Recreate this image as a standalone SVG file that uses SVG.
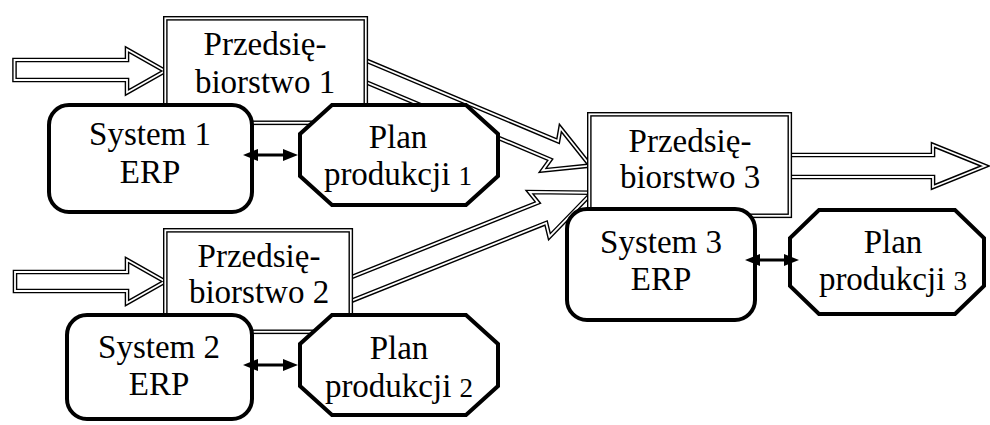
<svg xmlns="http://www.w3.org/2000/svg" xmlns:xlink="http://www.w3.org/1999/xlink" width="990" height="425" viewBox="0 0 990 425">
  <style>
    .dbl-o { fill: #fff; stroke: #000; stroke-width: 4.6; stroke-linejoin: miter; stroke-miterlimit: 6; }
    .dbl-i { fill: none; stroke: #fff; stroke-width: 1.8; stroke-linejoin: miter; stroke-miterlimit: 6; }
    .thick { fill: #fff; stroke: #000; stroke-width: 4; stroke-linejoin: miter; }
    .link { fill: none; stroke: #000; stroke-width: 3; marker-start: url(#head); marker-end: url(#head); }
    text { font-family: "Liberation Serif", "Times New Roman", serif; font-size: 33px; fill: #000; text-anchor: middle; }
    .num { font-size: 27px; }
  </style>
  <defs>
    <marker id="head" markerUnits="userSpaceOnUse" markerWidth="15" markerHeight="12" refX="0" refY="6" orient="auto-start-reverse" overflow="visible">
      <path d="M0,0 L15,6 L0,12 Z" fill="#000"/>
    </marker>
    <!-- block arrow outlines -->
    <path id="in1" d="M14.5,60 H127 V49.5 L165,71 L127,92.5 V80 H14.5 Z"/>
    <path id="in2" d="M15,272 H127 V260 L165,281.5 L127,303 V291 H15 Z"/>
    <path id="out3" d="M770,155 H933 V145 L985,166 L933,187 V177 H770 Z"/>
    <path id="a13" transform="translate(592,166.3) rotate(22.8)" d="M-2,0 L-44,-23 L-41,-10 L-280,-10 L-280,10 L-41,10 L-44,23 Z"/>
    <path id="a23" transform="translate(594,192) rotate(-21.8)" d="M-2,0 L-60,-24 L-56,-11 L-290,-11 L-290,11 L-56,11 L-58,25 Z"/>
    <!-- double-bordered company boxes -->
    <rect id="box1" x="165.3" y="18.3" width="200.5" height="104.5"/>
    <rect id="box2" x="165.3" y="230.3" width="185.5" height="101.5"/>
    <rect id="box3" x="589.3" y="114.3" width="200.5" height="101.5"/>
  </defs>

  <!-- material flows between companies -->
  <g id="flows">
    <use xlink:href="#in1" class="dbl-o"/><use xlink:href="#in1" class="dbl-i"/>
    <use xlink:href="#in2" class="dbl-o"/><use xlink:href="#in2" class="dbl-i"/>
    <use xlink:href="#a13" class="dbl-o"/><use xlink:href="#a13" class="dbl-i"/>
    <use xlink:href="#a23" class="dbl-o"/><use xlink:href="#a23" class="dbl-i"/>
    <use xlink:href="#out3" class="dbl-o"/><use xlink:href="#out3" class="dbl-i"/>
  </g>

  <g id="przedsiebiorstwo3">
    <use xlink:href="#box3" class="dbl-o"/><use xlink:href="#box3" class="dbl-i"/>
    <text x="690" y="152">Przedsię-</text>
    <text x="690" y="188">biorstwo 3</text>
  </g>
  <g id="przedsiebiorstwo1">
    <use xlink:href="#box1" class="dbl-o"/><use xlink:href="#box1" class="dbl-i"/>
    <text x="265" y="55">Przedsię-</text>
    <text x="265" y="93">biorstwo 1</text>
  </g>
  <g id="przedsiebiorstwo2">
    <use xlink:href="#box2" class="dbl-o"/><use xlink:href="#box2" class="dbl-i"/>
    <text x="259" y="267">Przedsię-</text>
    <text x="259" y="303">biorstwo 2</text>
  </g>

  <g id="system1">
    <rect class="thick" x="49" y="105" width="203" height="107" rx="20"/>
    <text x="150" y="145">System 1</text>
    <text x="150" y="183">ERP</text>
  </g>
  <g id="plan1">
    <polygon class="thick" points="332,105 466,105 498,134 498,176 466,205 332,205 300,176 300,134"/>
    <text x="398" y="148">Plan</text>
    <text x="398" y="185">produkcji <tspan class="num">1</tspan></text>
  </g>

  <g id="system2">
    <rect class="thick" x="67" y="315" width="185" height="104" rx="20"/>
    <text x="159" y="358">System 2</text>
    <text x="159" y="395">ERP</text>
  </g>
  <g id="plan2">
    <polygon class="thick" points="332,315 466,315 498,344 498,386 466,415 332,415 300,386 300,344"/>
    <text x="399" y="359">Plan</text>
    <text x="399" y="397">produkcji <tspan class="num">2</tspan></text>
  </g>

  <g id="system3">
    <rect class="thick" x="567" y="209" width="188" height="111" rx="20"/>
    <text x="661" y="253">System 3</text>
    <text x="661" y="290">ERP</text>
  </g>
  <g id="plan3">
    <polygon class="thick" points="819,210 955,210 984,238 984,286 955,314 819,314 790,286 790,238"/>
    <text x="893" y="253">Plan</text>
    <text x="893" y="290">produkcji <tspan class="num">3</tspan></text>
  </g>

  <!-- ERP system <-> production plan exchange -->
  <g id="links">
    <path class="link" d="M258,155 H283"/>
    <path class="link" d="M258,365 H283"/>
    <path class="link" d="M760,260 H784"/>
  </g>
</svg>
